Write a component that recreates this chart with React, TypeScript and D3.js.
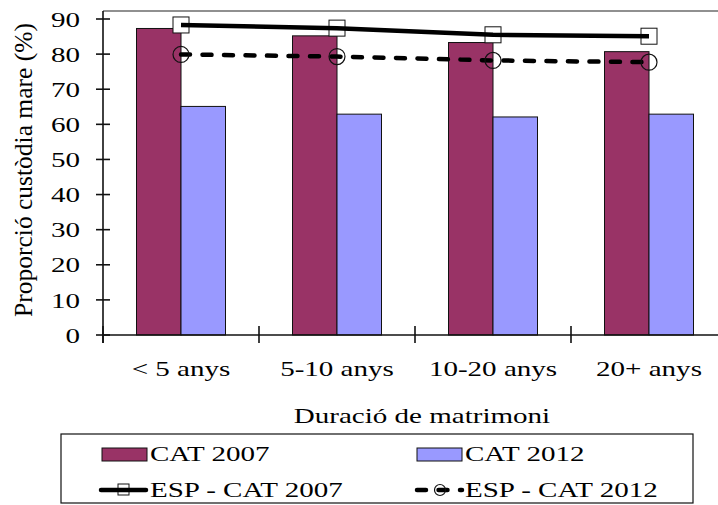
import { useRef, useEffect } from 'react';
import * as d3 from 'd3';

const categories = ['< 5 anys', '5-10 anys', '10-20 anys', '20+ anys'];
const cat2007 = [87.3, 85.2, 83.3, 80.7];
const cat2012 = [65.1, 62.9, 62.1, 62.9];
const esp2007 = [88.3, 87.4, 85.5, 85.1];
const esp2012 = [79.9, 79.3, 78.2, 77.7];
const yTicks = [0, 10, 20, 30, 40, 50, 60, 70, 80, 90];

const PURPLE = '#993366';
const BLUE = '#9999ff';
const FONT = '"Liberation Serif", "Times New Roman", serif';
const FS = 22;
const SX = 1.32; // reference text is wide

const App: React.FC = () => {
  const svgRef = useRef<SVGSVGElement>(null);

  useEffect(() => {
    if (!svgRef.current) return;
    const svg = d3.select(svgRef.current);
    svg.selectAll('*').remove();

    const width = 718;
    const left = 103;
    const plotRight = 727;
    const y0 = 335;
    const yTop = 19;

    const x = d3.scaleBand<string>().domain(categories).range([left, plotRight]);
    const bw = 44.5;
    const y = d3.scaleLinear().domain([0, 90]).range([y0, yTop]);
    const cx = (c: string) => (x(c) as number) + x.bandwidth() / 2;

    // wide text helper
    const wideText = (g: any, tx: number, ty: number, s: string, anchor = 'start', dy = '0') =>
      g.append('text')
        .attr('transform', `translate(${tx},${ty}) scale(${SX},1)`)
        .attr('dy', dy)
        .attr('text-anchor', anchor)
        .attr('font-family', FONT).attr('font-size', FS)
        .attr('fill', '#000').text(s);

    // top border of plot area
    svg.append('line')
      .attr('x1', left).attr('x2', width).attr('y1', 11).attr('y2', 11)
      .attr('stroke', '#222').attr('stroke-width', 1.2);

    // bars
    const bars = svg.append('g');
    categories.forEach((c, i) => {
      bars.append('rect')
        .attr('x', cx(c) - bw).attr('y', y(cat2007[i]))
        .attr('width', bw).attr('height', y0 - y(cat2007[i]))
        .attr('fill', PURPLE).attr('stroke', '#111').attr('stroke-width', 1);
      bars.append('rect')
        .attr('x', cx(c)).attr('y', y(cat2012[i]))
        .attr('width', bw).attr('height', y0 - y(cat2012[i]))
        .attr('fill', BLUE).attr('stroke', '#111').attr('stroke-width', 1);
    });

    // axes
    const ax = svg.append('g').attr('stroke', '#111').attr('stroke-width', 1.6);
    ax.append('line').attr('x1', left).attr('x2', left).attr('y1', 11).attr('y2', 343);
    ax.append('line').attr('x1', left).attr('x2', width).attr('y1', y0).attr('y2', y0);
    yTicks.forEach(t => {
      ax.append('line').attr('x1', 96).attr('x2', 110).attr('y1', y(t)).attr('y2', y(t));
    });
    categories.forEach(c => {
      const xx = x(c) as number;
      ax.append('line').attr('x1', xx).attr('x2', xx).attr('y1', 326).attr('y2', 343);
    });

    // tick labels
    const labels = svg.append('g');
    yTicks.forEach(t => wideText(labels, 80, y(t), String(t), 'end', '0.35em'));
    categories.forEach(c => wideText(labels, cx(c), 376, c, 'middle'));

    // axis titles
    svg.append('text')
      .attr('transform', 'translate(32,170) rotate(-90)')
      .attr('text-anchor', 'middle').attr('font-family', FONT).attr('font-size', 25.5)
      .attr('fill', '#000').text('Proporció custòdia mare (%)');
    wideText(svg, 422, 423, 'Duració de matrimoni', 'middle');

    // lines
    const line = d3.line<number>()
      .x((_, i) => cx(categories[i]))
      .y(d => y(d));

    const ms = 16;
    svg.append('g').selectAll('rect').data(esp2007).enter().append('rect')
      .attr('x', (_, i) => cx(categories[i]) - ms / 2)
      .attr('y', d => y(d) - ms / 2)
      .attr('width', ms).attr('height', ms)
      .attr('fill', '#fff').attr('stroke', '#111').attr('stroke-width', 1);

    svg.append('path').datum(esp2007)
      .attr('d', line).attr('fill', 'none')
      .attr('stroke', '#000').attr('stroke-width', 4.5);

    svg.append('path').datum(esp2012)
      .attr('d', line).attr('fill', 'none')
      .attr('stroke', '#000').attr('stroke-width', 4.5)
      .attr('stroke-linecap', 'round')
      .attr('stroke-dasharray', '9,12.5');

    svg.append('g').selectAll('circle').data(esp2012).enter().append('circle')
      .attr('cx', (_, i) => cx(categories[i]))
      .attr('cy', d => y(d))
      .attr('r', 8)
      .attr('fill', 'none').attr('stroke', '#111').attr('stroke-width', 1.2);

    // legend
    const lg = svg.append('g');
    lg.append('rect')
      .attr('x', 61).attr('y', 434).attr('width', 632).attr('height', 69)
      .attr('fill', '#fff').attr('stroke', '#111').attr('stroke-width', 1.2);

    lg.append('rect').attr('x', 102).attr('y', 448).attr('width', 45).attr('height', 13)
      .attr('fill', PURPLE).attr('stroke', '#111').attr('stroke-width', 1);
    wideText(lg, 150, 461, 'CAT 2007');

    lg.append('rect').attr('x', 417).attr('y', 448).attr('width', 45).attr('height', 13)
      .attr('fill', BLUE).attr('stroke', '#111').attr('stroke-width', 1);
    wideText(lg, 465, 461, 'CAT 2012');

    lg.append('rect').attr('x', 118).attr('y', 484).attr('width', 11).attr('height', 11)
      .attr('fill', '#fff').attr('stroke', '#111').attr('stroke-width', 1);
    lg.append('line').attr('x1', 101).attr('x2', 146).attr('y1', 490).attr('y2', 490)
      .attr('stroke', '#000').attr('stroke-width', 4.5).attr('stroke-linecap', 'round');
    wideText(lg, 150, 497, 'ESP - CAT 2007');

    lg.append('line').attr('x1', 417).attr('x2', 462).attr('y1', 490).attr('y2', 490)
      .attr('stroke', '#000').attr('stroke-width', 4.5).attr('stroke-linecap', 'round')
      .attr('stroke-dasharray', '9,12.5');
    lg.append('circle').attr('cx', 440).attr('cy', 490).attr('r', 5.5)
      .attr('fill', 'none').attr('stroke', '#111').attr('stroke-width', 1.2);
    wideText(lg, 465, 497, 'ESP - CAT 2012');
  }, []);

  return (
    <svg
      ref={svgRef}
      width={718}
      height={505}
      style={{ position: 'absolute', left: 0, top: 0, background: '#fff' }}
    />
  );
};

export default App;
